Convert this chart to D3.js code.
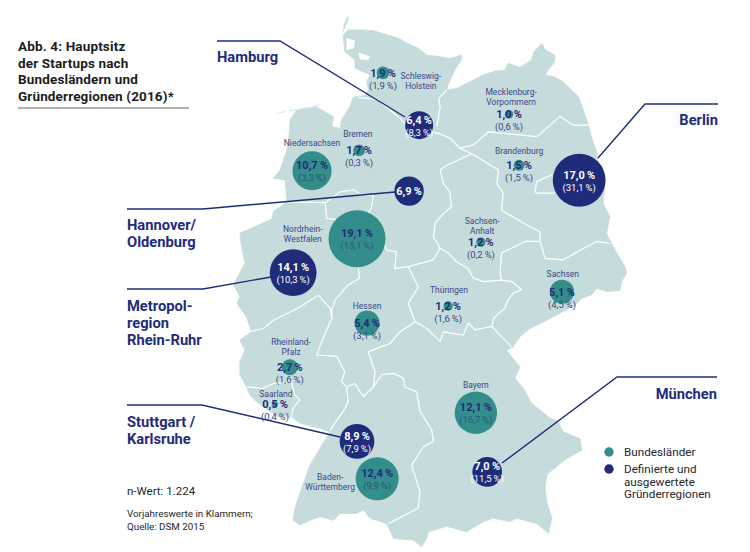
<!DOCTYPE html>
<html lang="de">
<head>
<meta charset="utf-8">
<script src="https://cdnjs.cloudflare.com/ajax/libs/d3/7.8.5/d3.min.js"></script>
<style>
html,body{margin:0;padding:0;background:#fff}
svg{display:block}
text{font-family:Roboto,"Liberation Sans",sans-serif}
</style>
</head>
<body>
<svg id="chart" width="750" height="552"></svg>
<script>
// ---- Data -------------------------------------------------------------
const names  = ["Schleswig-Holstein","Hamburg","Bremen","Niedersachsen","Hannover/Oldenburg","Mecklenburg-Vorpommern","Brandenburg","Berlin","Sachsen-Anhalt","Sachsen","Thüringen","Nordrhein-Westfalen","Metropolregion Rhein-Ruhr","Hessen","Rheinland-Pfalz","Saarland","Baden-Württemberg","Stuttgart/Karlsruhe","Bayern","München"];
const kinds  = ["land","region","land","land","region","land","land","region","land","land","land","land","region","land","land","land","land","region","land","region"];
const shares = [1.9,6.4,1.7,10.7,6.9,1.0,1.5,17.0,1.2,5.1,1.2,19.1,14.1,5.4,2.7,0.5,12.4,8.9,12.1,7.0];
const prior  = [1.9,8.3,0.3,3.3,null,0.6,1.5,31.1,0.2,4.5,1.6,15.1,10.3,3.1,1.6,0.4,9.9,7.9,16.7,11.5];
const lons   = [9.42,10.28,8.85,7.73,10.04,12.42,12.66,14.09,11.75,13.68,10.97,8.80,7.28,9.04,7.20,6.85,9.28,8.80,11.63,11.90];
const lats   = [54.20,53.43,53.06,52.76,52.46,53.59,52.84,52.62,51.71,50.98,50.77,51.76,51.26,50.52,49.87,49.33,48.23,48.78,49.20,48.33];

const outline = [[8.91,54.83],[9.19,54.82],[9.51,54.76],[9.78,54.71],[9.98,54.64],[10.26,54.56],[10.46,54.46],[10.74,54.44],[11.01,54.41],[11.29,54.46],[11.29,54.39],[11.17,54.29],[11.09,54.19],[10.97,54.02],[10.94,53.95],[11.17,53.97],[11.49,54.07],[11.81,54.17],[12.13,54.23],[12.32,54.24],[12.40,54.34],[12.68,54.28],[12.96,54.39],[13.01,54.51],[13.20,54.63],[13.28,54.54],[13.51,54.46],[13.51,54.36],[13.36,54.25],[13.28,54.17],[13.51,54.14],[13.71,54.07],[13.95,53.92],[14.07,53.85],[14.19,53.65],[14.31,53.43],[14.39,53.24],[14.51,53.02],[14.55,52.77],[14.70,52.53],[14.66,52.28],[14.82,52.08],[14.74,51.84],[14.90,51.64],[15.18,51.35],[15.22,51.25],[15.10,51.13],[15.06,51.00],[14.74,50.98],[14.51,51.03],[14.39,50.94],[14.15,50.88],[13.99,50.78],[13.71,50.69],[13.32,50.56],[12.92,50.44],[12.68,50.32],[12.52,50.17],[12.36,50.12],[12.60,49.93],[12.68,49.88],[12.56,49.71],[12.76,49.56],[12.96,49.34],[13.40,49.12],[13.59,49.07],[13.71,48.92],[14.11,48.82],[14.15,48.65],[13.75,48.51],[13.32,48.29],[13.28,48.09],[13.32,47.89],[13.44,47.65],[13.36,47.43],[13.08,47.57],[12.60,47.65],[12.44,47.60],[12.05,47.65],[11.81,47.60],[11.41,47.45],[10.94,47.53],[10.50,47.45],[10.46,47.35],[10.34,47.23],[10.14,47.33],[9.67,47.35],[9.51,47.57],[9.11,47.65],[8.95,47.77],[8.79,47.72],[8.40,47.72],[8.24,47.62],[7.92,47.67],[7.68,47.62],[7.44,47.55],[7.28,47.62],[7.32,47.79],[7.48,48.09],[7.68,48.43],[7.92,48.68],[8.16,48.92],[7.92,48.97],[7.44,49.05],[7.24,49.14],[6.93,49.14],[6.73,49.22],[6.41,49.36],[6.25,49.46],[6.17,49.58],[6.01,49.76],[6.01,49.95],[6.13,50.12],[6.01,50.27],[6.29,50.39],[6.17,50.61],[5.94,50.81],[6.01,50.91],[5.86,51.08],[6.13,51.40],[6.03,51.72],[6.01,51.84],[6.77,52.05],[6.81,52.16],[7.13,52.30],[7.09,52.62],[6.81,52.65],[6.97,52.77],[7.13,53.06],[7.17,53.19],[7.21,53.51],[7.36,53.65],[7.84,53.70],[8.24,53.55],[8.20,53.41],[8.40,53.38],[8.43,53.51],[8.63,53.70],[8.71,53.84],[8.99,53.87],[9.07,53.95],[9.03,54.07],[9.11,54.17],[8.75,54.27],[8.75,54.39],[8.51,54.51],[8.47,54.76],[8.59,54.83]];
const sylt = [[8.57,55.02],[8.49,54.90],[8.47,54.80],[8.53,54.90],[8.60,55.00]];
const frisia = [[6.89,53.60],[7.92,53.73]];
const waters = [
  [[8.55,54.71],[8.75,54.68],[8.73,54.56],[8.55,54.53]],
  [[8.83,54.50],[9.11,54.44],[9.07,54.39],[8.87,54.40]]
];
const borders = [
  [[8.83,53.84],[9.27,53.81],[9.59,53.65],[9.82,53.53],[9.98,53.43]],
  [[10.94,53.95],[10.74,53.82],[10.78,53.70],[10.70,53.41]],
  [[10.54,53.33],[10.74,53.31],[11.01,53.24],[11.25,53.09],[11.53,53.01]],
  [[11.25,53.09],[11.57,53.14],[11.93,53.33],[12.60,53.29],[13.08,53.26],[13.40,53.43],[13.63,53.56],[13.95,53.43],[14.31,53.43]],
  [[11.53,53.01],[10.94,52.84],[10.78,52.77],[10.86,52.57],[11.01,52.45],[11.05,52.23],[10.86,52.13],[10.66,51.99],[10.62,51.79],[10.78,51.62]],
  [[10.78,51.62],[10.97,51.55],[11.17,51.42],[11.45,51.32],[11.57,51.18],[11.81,51.13],[12.24,51.15],[12.48,51.13],[12.72,51.01]],
  [[11.53,53.01],[12.17,52.77],[12.13,52.57],[12.28,52.43],[12.24,52.18],[12.76,51.99],[13.16,51.86],[13.16,51.72],[12.80,51.72],[12.24,51.55],[12.21,51.25],[12.24,51.15]],
  [[13.16,51.72],[13.28,51.47],[13.71,51.45],[14.11,51.59],[14.51,51.72],[14.82,51.69]],
  [[13.44,52.70],[13.08,52.60],[13.04,52.45],[13.08,52.43],[13.51,52.43]],
  [[12.72,51.01],[12.52,50.96],[12.40,50.86],[12.32,50.74],[12.05,50.59],[12.01,50.47],[12.13,50.39],[12.48,50.17]],
  [[12.01,50.47],[11.61,50.42],[11.45,50.52],[11.33,50.34],[10.86,50.39],[10.78,50.25],[10.46,50.44],[10.18,50.54]],
  [[10.18,50.54],[10.02,50.81],[10.26,51.05],[10.02,51.35],[10.62,51.45],[10.78,51.62]],
  [[9.51,51.59],[9.74,51.57],[9.70,51.32],[10.02,51.35]],
  [[8.83,51.32],[8.86,51.18],[8.59,51.08],[8.28,50.86],[8.20,50.71],[8.20,50.59]],
  [[6.21,50.39],[6.57,50.44],[6.81,50.56],[7.40,50.74],[7.88,50.93],[8.16,50.74],[8.20,50.59]],
  [[8.20,50.59],[7.96,50.25],[7.84,50.05],[8.32,50.03],[8.51,49.80],[8.43,49.66],[8.55,49.58]],
  [[8.55,49.58],[8.59,49.36],[8.47,49.22],[8.16,48.95]],
  [[8.55,49.58],[8.75,49.63],[8.95,49.44],[9.19,49.58],[9.23,49.80],[9.07,50.10],[9.59,50.22],[9.82,50.39],[10.18,50.54]],
  [[9.19,49.58],[9.39,49.76],[9.67,49.78],[9.90,49.71],[9.94,49.58],[10.22,49.51],[10.30,49.22],[10.58,48.95],[10.62,48.78],[10.38,48.70],[10.10,48.43],[10.30,48.04],[10.26,47.80],[9.55,47.57]],
  [[6.17,49.58],[6.57,49.56],[6.81,49.63],[7.24,49.66],[7.32,49.46],[7.44,49.39],[7.28,49.27],[7.24,49.14]],
  [[7.13,52.30],[8.04,52.29],[8.40,52.45],[8.71,52.48],[8.91,52.40],[9.19,52.40],[9.15,52.23],[9.07,52.13],[9.51,51.59]],
  [[8.04,52.29],[8.08,52.06],[8.32,52.04]]
];

// State name labels: text lines and geographic anchor of the first line
const placeLines = [["Schleswig-","Holstein"],["Mecklenburg-","Vorpommern"],["Niedersachsen"],["Bremen"],["Brandenburg"],["Nordrhein-","Westfalen"],["Sachsen-","Anhalt"],["Sachsen"],["Thüringen"],["Hessen"],["Rheinland-","Pfalz"],["Saarland"],["Bayern"],["Baden-","Württemberg"]];
const placeLon = [10.32,12.47,7.73,8.82,12.66,7.51,11.78,13.70,10.99,9.04,7.23,6.87,11.63,8.16];
const placeLat = [54.11,53.87,53.12,53.26,53.01,51.86,51.98,51.20,50.96,50.73,50.20,49.43,49.56,48.21];

const calloutLabels = [["Hamburg"],["Berlin"],["Hannover/","Oldenburg"],["Metropol-","region","Rhein-Ruhr"],["Stuttgart /","Karlsruhe"],["München"]];
const titleLines = ["Abb. 4: Hauptsitz","der Startups nach","Bundesländern und","Gründerregionen (2016)*"];
const legendLabels = [["Bundesländer"],["Definierte und","ausgewertete","Gründerregionen"]];
const footLines = ["Vorjahreswerte in Klammern;","Quelle: DSM 2015"];
const nText = "n-Wert: 1.224";

// ---- Layout ------------------------------------------------------------
const NAVY="#1f2c7a", TEAL="#338d8b", LAND="#c6dcdc", LABEL="#3d4585", INK="#26262c";
const svg=d3.select("#chart");
const x=d3.scaleLinear().domain([5,15]).range([197.4,617.4]);
const y=d3.scaleLinear().domain([47,55]).range([562.4,18.4]);
const r=d3.scalePow().exponent(0.65).domain([0,19.1]).range([0,28.5]);
const line=d3.line().x(d=>x(d[0])).y(d=>y(d[1]));
const closed=d3.line().x(d=>x(d[0])).y(d=>y(d[1])).curve(d3.curveLinearClosed);
const pct=v=>v.toFixed(1).replace(".",",");

// ---- Map ---------------------------------------------------------------
const map=svg.append("g");
map.append("path").attr("d",line(frisia)).attr("fill","none").attr("stroke","#e2eeee").attr("stroke-width",1.5).attr("stroke-dasharray","9 3");
map.append("path").attr("d",closed(outline)).attr("fill",LAND).attr("stroke",LAND).attr("stroke-width",.8).attr("stroke-linejoin","round");
map.append("path").attr("d",closed(sylt)).attr("fill",LAND).attr("stroke",LAND).attr("stroke-width",.6);
map.selectAll(".water").data(waters).join("path").attr("class","water").attr("d",d=>closed(d)).attr("fill","#fff");
map.selectAll(".border").data(borders).join("path").attr("class","border")
  .attr("d",d=>line(d)).attr("fill","none").attr("stroke","#fff").attr("stroke-width",1.2).attr("stroke-linejoin","round");

// ---- Callout lines (annotation layer) ------------------------------------
const calloutPaths=[
 [[217,41],[280,41],[405,117]],
 [[718,104],[645,104],[598,158]],
 [[127,209],[203,209],[395,192]],
 [[127,289],[203,289],[271,277]],
 [[127,405],[202,405],[340,437]],
 [[717,377],[617,377],[502,463]]
];
svg.append("g").selectAll("path").data(calloutPaths).join("path")
  .attr("d",d3.line()).attr("fill","none").attr("stroke",NAVY).attr("stroke-width",1.4);

// ---- Bubbles -------------------------------------------------------------
const idx=d3.range(names.length);
svg.append("g").selectAll("circle").data(idx).join("circle")
  .attr("cx",i=>x(lons[i])).attr("cy",i=>y(lats[i])).attr("r",i=>r(shares[i]))
  .attr("fill",i=>kinds[i]==="land"?TEAL:NAVY);

// ---- Place names ---------------------------------------------------------
const places=svg.append("g").attr("font-size",8.5).attr("fill",LABEL).attr("text-anchor","middle");
placeLines.forEach((ls,i)=>ls.forEach((t,j)=>{
  places.append("text").attr("x",x(placeLon[i])).attr("y",y(placeLat[i])+j*10).text(t);
}));

// ---- Value labels --------------------------------------------------------
const vals=svg.append("g").attr("text-anchor","middle");
idx.forEach(i=>{
  const cx=x(lons[i]), cy=y(lats[i]), big=shares[i]>6, isR=kinds[i]==="region";
  const solo=prior[i]===null;
  vals.append("text").attr("x",cx).attr("y",cy+(solo||!big?4:-1.5))
    .attr("font-size",11).attr("font-weight",700).attr("fill",isR?"#fff":NAVY)
    .text(pct(shares[i])+"\u2009%");
  if(!solo) vals.append("text").attr("x",cx).attr("y",cy+(big?10.5:16))
    .attr("font-size",9.5).attr("fill",isR?"#fff":(big?"#27597a":LABEL))
    .text("("+pct(prior[i])+"\u2009%)");
});

// ---- Callout labels --------------------------------------------------------
const calloutAt=[[217,62,"start",0],[718,125,"end",0],[127,230,"start",17],[127,311,"start",17],[127,427,"start",16.5],[717,399,"end",0]];
const cl=svg.append("g").attr("font-size",14.7).attr("font-weight",700).attr("fill",NAVY);
calloutLabels.forEach((ls,i)=>ls.forEach((t,j)=>{
  cl.append("text").attr("x",calloutAt[i][0]).attr("y",calloutAt[i][1]+j*calloutAt[i][3]).attr("text-anchor",calloutAt[i][2]).text(t);
}));

// ---- Title -----------------------------------------------------------------
const tl=svg.append("g").attr("font-size",13.5).attr("font-weight",700).attr("letter-spacing",.15).attr("fill","#1c1c22");
titleLines.forEach((t,i)=>tl.append("text").attr("x",18).attr("y",51+i*16.6).text(t));
svg.append("line").attr("x1",18).attr("x2",189).attr("y1",108).attr("y2",108).attr("stroke","#666").attr("stroke-width",1);

// ---- Legend ------------------------------------------------------------------
const lg=svg.append("g");
[[452,TEAL],[469,NAVY]].forEach(([cy,c])=>lg.append("circle").attr("cx",609).attr("cy",cy).attr("r",4.7).attr("fill",c));
[[456],[473]].forEach(([by],i)=>legendLabels[i].forEach((t,j)=>{
  lg.append("text").attr("x",624).attr("y",by+j*12.6).attr("font-size",11.7).attr("fill",INK).text(t);
}));

// ---- Notes ---------------------------------------------------------------------
svg.append("text").attr("x",127).attr("y",495).attr("font-size",11.5).attr("fill",INK).text(nText);
footLines.forEach((t,i)=>svg.append("text").attr("x",127).attr("y",517+i*12.7).attr("font-size",9.8).attr("fill",INK).text(t));
</script>
</body>
</html>
